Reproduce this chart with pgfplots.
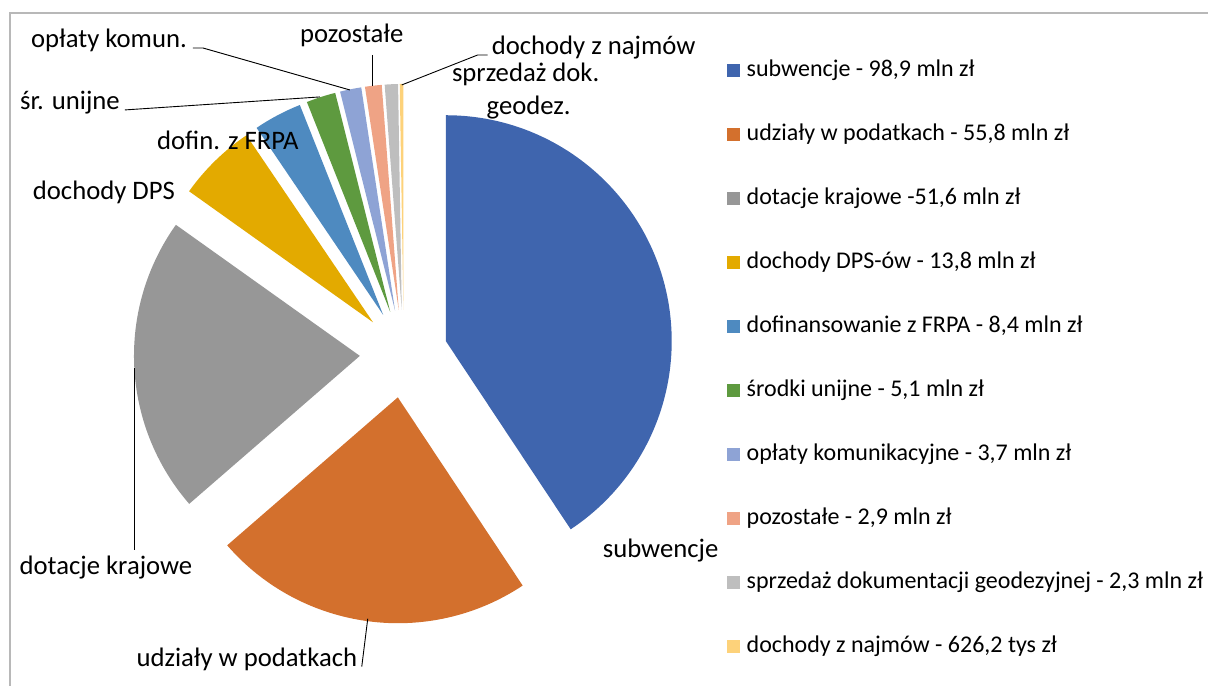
\documentclass[border=0pt]{standalone}
\usepackage{fontspec}
\setmainfont{Carlito}
\usepackage{pgfplots}
\pgfplotsset{compat=1.18}
\definecolor{c1}{HTML}{3F65AE}
\definecolor{c2}{HTML}{D3702D}
\definecolor{c3}{HTML}{979797}
\definecolor{c4}{HTML}{E3AA00}
\definecolor{c5}{HTML}{4E8AC0}
\definecolor{c6}{HTML}{5E9A3F}
\definecolor{c7}{HTML}{8EA3D5}
\definecolor{c8}{HTML}{EFA385}
\definecolor{c9}{HTML}{BEBEBE}
\definecolor{c10}{HTML}{FDD27A}
\def\piedata{98.9/c1,55.8/c2,51.6/c3,13.8/c4,8.4/c5,5.1/c6,3.7/c7,2.9/c8,2.3/c9,0.6262/c10}
\def\cx{404}\def\cy{354}\def\R{226}\def\ex{44}
\newcommand\legitem[3]{%
  \fill[#1] (axis cs:727,#2-13) rectangle (axis cs:740,#2);
  \node[anchor=base west,inner sep=0pt,font=\fontsize{24}{28}\selectfont] at (axis cs:747,#2) {#3};}
\begin{document}
\begin{tikzpicture}[font=\fontsize{26.7}{31}\selectfont]
\begin{axis}[width=1209pt,height=686pt,scale only axis,
  xmin=0,xmax=1209,ymin=0,ymax=686,y dir=reverse,
  hide axis,clip=false,at={(0,0)},anchor=south west]
\path (axis cs:0,0) rectangle (axis cs:1209,686);
\draw[black!28,line width=1.5pt] (axis cs:10,686) -- (axis cs:10,13) -- (axis cs:1209,13);
% total
\xdef\total{0}
\foreach \v/\c in \piedata {\pgfmathsetmacro\tsum{\total+\v}\xdef\total{\tsum}}
\xdef\cum{0}
\foreach \v/\c in \piedata {
  \pgfmathsetmacro\sa{90-\cum/\total*360}
  \pgfmathsetmacro\ea{90-(\cum+\v)/\total*360}
  \pgfmathsetmacro\ma{(\sa+\ea)/2}
  \pgfmathsetmacro\ax{\cx+\ex*cos(\ma)}
  \pgfmathsetmacro\ay{\cy-\ex*sin(\ma)}
  \edef\tmp{\noexpand\fill[\c] (axis cs:\ax,\ay) -- ++(\sa:\R pt) arc[start angle=\sa, end angle=\ea, radius=\R pt] -- cycle;}
  \tmp
  \pgfmathsetmacro\nc{\cum+\v}\xdef\cum{\nc}
}
% leader lines
\draw[line width=0.9pt] (axis cs:368,619) -- (axis cs:362,667);
\draw[line width=0.9pt] (axis cs:135,368) -- (axis cs:135,550);
\draw[line width=0.9pt] (axis cs:125,110) -- (axis cs:320,97);
\draw[line width=0.9pt] (axis cs:193,48) -- (axis cs:203,48) -- (axis cs:350,90);
\draw[line width=0.9pt] (axis cs:373,55) -- (axis cs:373,86);
\draw[line width=0.9pt] (axis cs:402,85) -- (axis cs:478,55) -- (axis cs:488,55);
% data labels
\node[anchor=base,inner sep=0pt] at (axis cs:661,558) {subwencje};
\node[anchor=base,inner sep=0pt] at (axis cs:247,667) {udziały w podatkach};
\node[anchor=base,inner sep=0pt] at (axis cs:106,575) {dotacje krajowe};
\node[anchor=base,inner sep=0pt] at (axis cs:104,200) {dochody DPS};
\node[anchor=base,inner sep=0pt] at (axis cs:228,150) {dofin. z FRPA};
\node[anchor=base,inner sep=0pt] at (axis cs:70,110) {śr. unijne};
\node[anchor=base,inner sep=0pt] at (axis cs:109,48) {opłaty komun.};
\node[anchor=base,inner sep=0pt] at (axis cs:352,43) {pozostałe};
\node[anchor=base,inner sep=0pt] at (axis cs:594,55) {dochody z najmów};
\node[anchor=base,inner sep=0pt] at (axis cs:526,82) {sprzedaż dok.};
\node[anchor=base,inner sep=0pt] at (axis cs:529,115) {geodez.};
% legend
\legitem{c1}{77}{subwencje - 98,9 mln zł}
\legitem{c2}{141}{udziały w podatkach - 55,8 mln zł}
\legitem{c3}{205}{dotacje krajowe -51,6 mln zł}
\legitem{c4}{269}{dochody DPS-ów - 13,8 mln zł}
\legitem{c5}{333}{dofinansowanie z FRPA - 8,4 mln zł}
\legitem{c6}{397}{środki unijne - 5,1 mln zł}
\legitem{c7}{461}{opłaty komunikacyjne - 3,7 mln zł}
\legitem{c8}{525}{pozostałe - 2,9 mln zł}
\legitem{c9}{589}{sprzedaż dokumentacji geodezyjnej - 2,3 mln zł}
\legitem{c10}{653}{dochody z najmów - 626,2 tys zł}
\end{axis}
\end{tikzpicture}
\end{document}
